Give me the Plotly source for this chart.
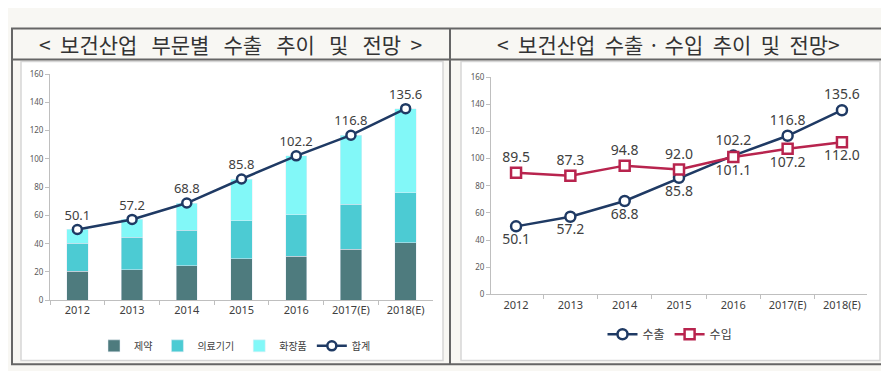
import plotly.graph_objects as go

W, H = 889, 371

categories = ["2012", "2013", "2014", "2015", "2016", "2017(E)", "2018(E)"]
pharma = [20.5, 21.6, 24.4, 29.5, 31.2, 36.0, 40.6]
medical = [20.0, 22.9, 25.2, 26.9, 29.2, 32.1, 35.4]
cosmetics = [9.6, 12.7, 19.2, 29.4, 41.8, 48.7, 59.6]
total = [50.1, 57.2, 68.8, 85.8, 102.2, 116.8, 135.6]
exports = [50.1, 57.2, 68.8, 85.8, 102.2, 116.8, 135.6]
imports = [89.5, 87.3, 94.8, 92.0, 101.1, 107.2, 112.0]

left_title = "<  보건산업   부문별   수출   추이   및   전망  >"
right_title = "<  보건산업  수출 · 수입  추이  및  전망>"

NAVY = "#1f3a64"
CRIMSON = "#b8244e"
FONT = "Noto Sans CJK KR"


def px(x):
    return x / W


def py(y):
    return 1 - y / H


fig = go.Figure()

# Left chart: stacked bars
fig.add_trace(go.Bar(x=categories, y=pharma, name="제약", marker_color="#4e7b7e",
                     xaxis="x", yaxis="y", legend="legend"))
fig.add_trace(go.Bar(x=categories, y=medical, name="의료기기", marker_color="#4ccbd3",
                     xaxis="x", yaxis="y", legend="legend"))
fig.add_trace(go.Bar(x=categories, y=cosmetics, name="화장품", marker_color="#82f8f8",
                     xaxis="x", yaxis="y", legend="legend"))
fig.add_trace(go.Scatter(x=categories, y=total, name="합계", mode="lines+markers+text",
                         line=dict(color=NAVY, width=2.5),
                         marker=dict(symbol="circle", size=9, color="white",
                                     line=dict(color=NAVY, width=2.5)),
                         text=[f"{v:.1f}" for v in total], textposition="top center",
                         textfont=dict(size=13, color="#404040", family="Noto Sans"),
                         xaxis="x", yaxis="y", legend="legend"))

# Right chart: lines
exp_pos = ["bottom center"] * 4 + ["top center"] * 3
imp_pos = ["top center"] * 4 + ["bottom center"] * 3
fig.add_trace(go.Scatter(x=categories, y=exports, name="수출", mode="lines+markers+text",
                         line=dict(color=NAVY, width=2.5),
                         marker=dict(symbol="circle", size=10, color="white",
                                     line=dict(color=NAVY, width=2.5)),
                         text=[f"{v:.1f}" for v in exports], textposition=exp_pos,
                         textfont=dict(size=14, color="#404040", family="Noto Sans"),
                         xaxis="x2", yaxis="y2", legend="legend2"))
fig.add_trace(go.Scatter(x=categories, y=imports, name="수입", mode="lines+markers+text",
                         line=dict(color=CRIMSON, width=2.5),
                         marker=dict(symbol="square", size=10, color="white",
                                     line=dict(color=CRIMSON, width=2.5)),
                         text=[f"{v:.1f}" for v in imports], textposition=imp_pos,
                         textfont=dict(size=14, color="#404040", family="Noto Sans"),
                         xaxis="x2", yaxis="y2", legend="legend2"))

xcommon = dict(type="category", showline=True, linecolor="#bfbfbf", linewidth=1,
               ticks="outside", tickson="boundaries", ticklen=4, tickcolor="#bfbfbf",
               tickfont=dict(size=11, color="#404040", family="Noto Sans"),
               showgrid=False, zeroline=False, fixedrange=True)
ycommon = dict(range=[0, 160], dtick=20, showline=True, linecolor="#bfbfbf", linewidth=1,
               ticks="outside", ticklen=4, tickcolor="#bfbfbf",
               tickfont=dict(size=8, color="#595959", family="Noto Sans"),
               showgrid=False, zeroline=False, fixedrange=True)

shapes = [
    # inner white chart boxes
    dict(type="rect", xref="paper", yref="paper", x0=px(13), x1=px(435), y0=py(357), y1=py(49),
         fillcolor="white", line=dict(color="#d6d6d6", width=1.5), layer="below"),
    dict(type="rect", xref="paper", yref="paper", x0=px(453), x1=px(872), y0=py(357), y1=py(49),
         fillcolor="white", line=dict(color="#d6d6d6", width=1.5), layer="below"),
    # outer frame
    dict(type="rect", xref="paper", yref="paper", x0=px(4), x1=px(879), y0=py(361), y1=py(15),
         fillcolor="rgba(0,0,0,0)", line=dict(color="#666666", width=2)),
    # title separator
    dict(type="line", xref="paper", yref="paper", x0=px(4), x1=px(879), y0=py(47), y1=py(47),
         line=dict(color="#666666", width=2)),
    # middle divider
    dict(type="line", xref="paper", yref="paper", x0=px(442), x1=px(442), y0=py(361), y1=py(15),
         line=dict(color="#666666", width=2)),
]

annotations = [
    dict(text=left_title, xref="paper", yref="paper", x=px(223), y=py(31), showarrow=False,
         xanchor="center", yanchor="middle", font=dict(size=21, color="#333333", family=FONT)),
    dict(text=right_title, xref="paper", yref="paper", x=px(660), y=py(31), showarrow=False,
         xanchor="center", yanchor="middle", font=dict(size=21, color="#333333", family=FONT)),
]

fig.update_layout(
    width=W, height=H, autosize=False,
    margin=dict(l=0, r=0, t=0, b=0),
    paper_bgcolor="#f8f7f3", plot_bgcolor="rgba(0,0,0,0)",
    barmode="stack", bargap=0.61,
    font=dict(family=FONT),
    xaxis=dict(domain=[px(42), px(425)], anchor="y", **xcommon),
    yaxis=dict(domain=[py(295), py(62)], anchor="x", **ycommon),
    xaxis2=dict(domain=[px(483), px(859)], anchor="y2", **xcommon),
    yaxis2=dict(domain=[py(289), py(65)], anchor="x2", **ycommon),
    legend=dict(orientation="h", x=px(227), y=py(342), xanchor="center", yanchor="middle",
                traceorder="normal",
                bgcolor="rgba(0,0,0,0)", font=dict(size=10, color="#404040", family=FONT),
                itemwidth=30, tracegroupgap=0),
    legend2=dict(orientation="h", x=px(662), y=py(330), xanchor="center", yanchor="middle",
                 traceorder="normal",
                 bgcolor="rgba(0,0,0,0)", font=dict(size=12, color="#404040", family=FONT),
                 itemwidth=30),
    shapes=shapes, annotations=annotations,
    showlegend=True,
)

fig.write_html("out.html")
